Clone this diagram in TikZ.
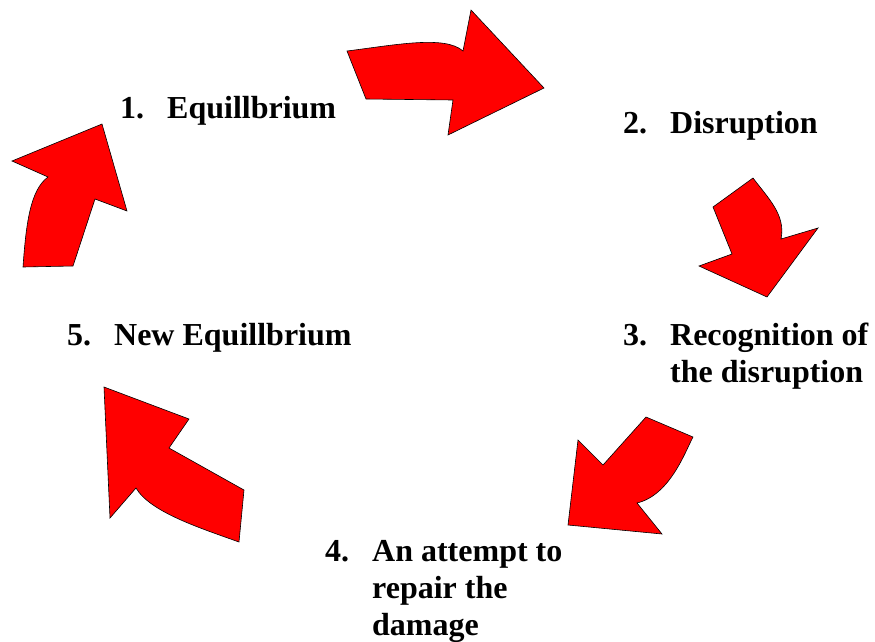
\documentclass[tikz,border=0pt]{standalone}
\usepackage{fontspec}
\setmainfont{Liberation Serif}

\newcommand{\numitem}[1]{\makebox[47pt][l]{#1}}

\tikzset{
  curvedarrow/.style={fill=red, draw=black, line width=0.6pt, line join=miter},
  steptext/.style={anchor=base west, inner sep=0pt, font=\fontsize{32}{37}\selectfont\bfseries},
}

\begin{document}
\begin{tikzpicture}[x=1pt, y=-1pt]
  \useasboundingbox (0,0) rectangle (875,641);

  % the five stages
  \node[steptext] (equil) at (120,118) {\numitem{1.}Equillbrium};
  \node[steptext] (disrupt) at (623,133) {\numitem{2.}Disruption};
  \node[steptext] (recog) at (623,345) {\begin{tabular}[t]{@{}l@{}}
    \numitem{3.}Recognition of\\
    \numitem{}the disruption
  \end{tabular}};
  \node[steptext] (repair) at (325,561) {\begin{tabular}[t]{@{}l@{}}
    \numitem{4.}An attempt to\\
    \numitem{}repair the\\
    \numitem{}damage
  \end{tabular}};
  \node[steptext] (newequil) at (67,345) {\numitem{5.}New Equillbrium};

  % bent block arrows between the stages
  \draw[curvedarrow] (347,51) .. controls (395,45) and (445,35) .. (463,51)
    -- (471,10) -- (544,88) -- (448,135) -- (453,100) -- (366,99) -- cycle;
  \draw[curvedarrow] (753,178) .. controls (768,198) and (786,215) .. (781,239)
    -- (818,228) -- (767,297) -- (699,266) -- (732,254) -- (713,207) -- cycle;
  \draw[curvedarrow] (646,417) -- (693,437) .. controls (685,452) and (670,495) .. (637,503)
    -- (662,534) -- (568,525) -- (578,440) -- (603,465) -- cycle;
  \draw[curvedarrow] (104,387) -- (189,419) -- (169,448) -- (244,490) -- (239,542)
    .. controls (200,528) and (150,512) .. (136,488) -- (110,518) -- cycle;
  \draw[curvedarrow] (102,124) -- (127,211) -- (95,199) -- (73,266) -- (23,267)
    .. controls (26,225) and (30,190) .. (48,177) -- (12,161) -- cycle;
\end{tikzpicture}
\end{document}
